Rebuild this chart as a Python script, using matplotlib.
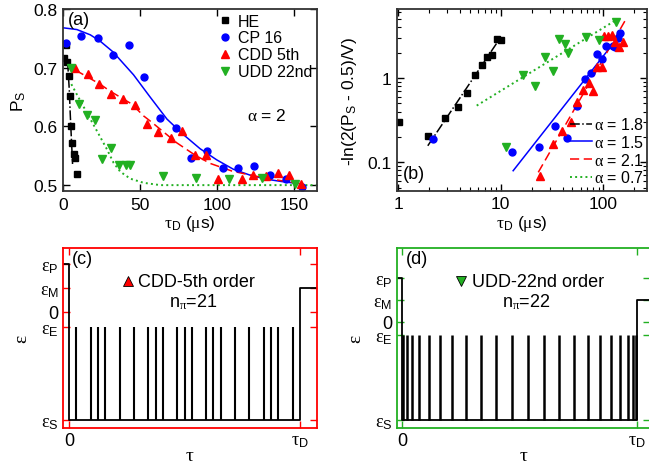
import matplotlib
matplotlib.use('Agg')
import matplotlib.pyplot as plt
from matplotlib.ticker import NullFormatter

plt.rcParams['font.family'] = ['Liberation Sans', 'DejaVu Sans']
plt.rcParams['mathtext.fontset'] = 'custom'
plt.rcParams['mathtext.rm'] = 'Liberation Serif'
plt.rcParams['mathtext.sf'] = 'Liberation Sans'
plt.rcParams['mathtext.it'] = 'Liberation Serif:italic'
plt.rcParams['mathtext.bf'] = 'Liberation Serif:bold'

BLUE = '#0000ff'
RED = '#ff0000'
GREEN = '#22b022'

# ---- panel (a): P_S vs tau_D (us)
he_t = [0.8, 1.8, 2.5, 3.6, 4.3, 5.0, 6.0, 7.0, 8.0, 9.2]
he_p = [0.717, 0.739, 0.709, 0.686, 0.652, 0.601, 0.572, 0.553, 0.546, 0.519]
cp_t = [1.9, 11.9, 22.4, 32.4, 42.5, 52.7, 63, 73.2, 83.3, 93.5, 103.6, 113.7, 123.9, 134, 144.3, 154.8]
cp_p = [0.7415, 0.7545, 0.750, 0.7216, 0.739, 0.6835, 0.6136, 0.597, 0.5455, 0.5585,
        0.530, 0.530, 0.533, 0.517, 0.511, 0.496]
cdd_t = [8, 16, 23.1, 31.3, 38.9, 46.8, 54.4, 61.9, 69.9, 77.1, 85.7, 92.8, 100.8, 115.9,
         123.5, 131.7, 139.2, 146.8, 154.3]
cdd_p = [0.699, 0.689, 0.672, 0.656, 0.647, 0.636, 0.604, 0.591, 0.580, 0.593, 0.551, 0.551,
         0.510, 0.510, 0.518, 0.515, 0.521, 0.517, 0.502]
udd_t = [5.0, 10.3, 15.8, 20.7, 25.5, 30.8, 36, 41, 43.2, 64.8, 86.3, 107.9, 128.9, 150.4]
udd_p = [0.699, 0.638, 0.620, 0.611, 0.544, 0.563, 0.534, 0.534, 0.534, 0.515, 0.512, 0.510,
         0.512, 0.502]

# fit curves
he_fit_t = [3.0, 4.1, 4.7, 5.4, 6.2]
he_fit_p = [0.710, 0.661, 0.621, 0.581, 0.536]
cp_fit_t = [0, 9, 17.7, 24.2, 32.4, 45.7, 56.5, 67.4, 78.1, 88.9, 99.7, 110.5, 121.3, 132.1, 142.9, 155]
cp_fit_p = [0.768, 0.765, 0.756, 0.745, 0.727, 0.688, 0.650, 0.6125, 0.586, 0.562, 0.543,
            0.527, 0.517, 0.510, 0.5057, 0.502]
cdd_fit_t = [8, 24, 30.6, 44.7, 52.2, 57.6, 73.8, 85.7, 95.4, 109.5, 123.4, 135.4, 149.4, 155]
cdd_fit_p = [0.696, 0.672, 0.660, 0.638, 0.618, 0.607, 0.572, 0.551, 0.537, 0.524, 0.516,
             0.510, 0.5046, 0.502]
udd_fit_t = [5.4, 10.1, 16.6, 23.1, 28.5, 32.8, 37.1, 43.6, 52.2, 63, 165]
udd_fit_p = [0.672, 0.649, 0.618, 0.587, 0.561, 0.538, 0.523, 0.511, 0.504, 0.500, 0.500]

# ---- panel (b): -ln(2(P_S-0.5)/V) vs tau_D, log-log
he_tb = [1.02, 1.94, 2.86, 3.80, 4.65, 5.6, 6.5, 7.39, 8.26, 9.12, 10.05]
he_db = [0.298, 0.203, 0.335, 0.457, 0.658, 1.085, 1.44, 1.76, 1.89, 2.9, 2.85]
cp_tb = [2.16, 12.8, 23.4, 33.8, 44.2, 55, 66.2, 75.2, 86.1, 96.4, 107, 123, 130, 140, 147]
cp_db = [0.189, 0.1315, 0.151, 0.272, 0.196, 0.47, 0.97, 1.14, 1.93, 1.68, 2.38, 2.4, 2.31, 3.0, 3.45]
cdd_tb = [24.1, 32.1, 39.8, 48.1, 55.8, 63.8, 73, 79.9, 86.1, 96.4, 101.6, 112, 120.8, 130, 143, 154.6]
cdd_db = [0.068, 0.166, 0.237, 0.298, 0.52, 0.72, 0.87, 0.70, 1.34, 1.34, 3.18, 3.18, 3.2,
          2.65, 2.31, 2.65]
udd_tb = [11.2, 16.4, 21.6, 27, 32.1, 37.2, 42.3, 45, 67.8, 90.2, 132]
udd_db = [0.151, 1.07, 0.795, 1.76, 1.22, 2.9, 2.5, 1.97, 3.04, 2.8, 4.6]

he_line_t, he_line_d = [1.94, 9.25], [0.157, 2.65]
cp_line_t, cp_line_d = [13.2, 145.6], [0.0794, 3.26]
cdd_line_t, cdd_line_d = [23.2, 163], [0.076, 4.78]
udd_line_t, udd_line_d = [5.82, 135], [0.47, 4.92]
alpha_labels = ['1.8', '1.5', '2.1', '0.7']

# ---- panels (c), (d): pulse sequences (times in units of tau_D)
level_names = ['P', 'M', '0', 'E', 'S']
level_vals = [3.2, 1.6, 0.0, -1.0, -7.2]
cdd_pulses = [0.031, 0.094, 0.125, 0.156, 0.219, 0.281, 0.344, 0.375, 0.406, 0.469, 0.5,
              0.531, 0.594, 0.625, 0.656, 0.719, 0.781, 0.844, 0.875, 0.906, 0.969]
udd_pulses = [0.0047, 0.0185, 0.0414, 0.0728, 0.1121, 0.1587, 0.2117, 0.2700, 0.3326, 0.3983,
              0.4658, 0.5342, 0.6017, 0.6674, 0.7300, 0.7883, 0.8413, 0.8879, 0.9272, 0.9586,
              0.9815, 0.9953]

W, H = 649, 464
fig = plt.figure(figsize=(W / 100, H / 100), dpi=100)


def box(l, r, t, b):
    return [l / W, 1 - b / H, (r - l) / W, (b - t) / H]


TAU_D = r'$\mathrm{\tau}_\mathsf{D}$'
FS_TICK = 12.5
FS_TXT = 11.5

# ================= (a)
ax = fig.add_axes(box(63, 316.7, 10, 192))
ax.plot(he_fit_t, he_fit_p, color='k', ls='-.', lw=1.1)
ax.plot(cp_fit_t, cp_fit_p, color=BLUE, ls='-', lw=1.1)
ax.plot(cdd_fit_t, cdd_fit_p, color=RED, ls=(0, (6, 3)), lw=1.1)
ax.plot(udd_fit_t, udd_fit_p, color=GREEN, ls=':', lw=1.4)
h1, = ax.plot(he_t, he_p, 's', color='k', ms=4.5, ls='none', label='HE')
h2, = ax.plot(cp_t, cp_p, 'o', color=BLUE, ms=5, ls='none', label='CP 16')
h3, = ax.plot(cdd_t, cdd_p, '^', color=RED, ms=5.8, ls='none', label='CDD 5th')
h4, = ax.plot(udd_t, udd_p, 'v', color=GREEN, ms=5.8, ls='none', label='UDD 22nd')
ax.set_xlim(0, 164.5)
ax.set_ylim(0.49, 0.8)
ax.set_xticks([0, 50, 100, 150])
ax.set_yticks([0.5, 0.6, 0.7, 0.8])
ax.set_xlabel(TAU_D + r' ($\mathrm{\mu}$s)', fontsize=FS_TICK, labelpad=1)
ax.set_ylabel(r'P$_\mathsf{S}$', fontsize=FS_TICK, labelpad=4)
ax.legend(handles=[h1, h2, h3, h4], loc='upper left', bbox_to_anchor=(0.612, 0.975),
          frameon=False, fontsize=FS_TXT, handlelength=0.8, handletextpad=0.45,
          labelspacing=0.12, borderpad=0, borderaxespad=0)
ax.text(0.02, 0.94, '(a)', transform=ax.transAxes, fontsize=13, va='center', ha='left')
ax.text(0.804, 0.418, r'$\mathrm{\alpha}$ = 2', transform=ax.transAxes, fontsize=FS_TXT + 1,
        va='center', ha='center')

# ================= (b)
bx = fig.add_axes(box(396.7, 646.7, 10, 191.7))
bx.set_xscale('log')
bx.set_yscale('log')
l1, = bx.plot(he_line_t, he_line_d, color='k', ls='-.', lw=1.1)
l2, = bx.plot(cp_line_t, cp_line_d, color=BLUE, ls='-', lw=1.1)
l3, = bx.plot(cdd_line_t, cdd_line_d, color=RED, ls=(0, (6, 3)), lw=1.1)
l4, = bx.plot(udd_line_t, udd_line_d, color=GREEN, ls=':', lw=1.4)
bx.plot(he_tb, he_db, 's', color='k', ms=4.5, ls='none')
bx.plot(cp_tb, cp_db, 'o', color=BLUE, ms=5, ls='none')
bx.plot(cdd_tb, cdd_db, '^', color=RED, ms=5.8, ls='none')
bx.plot(udd_tb, udd_db, 'v', color=GREEN, ms=5.8, ls='none')
bx.set_xlim(0.965, 265)
bx.set_ylim(0.046, 6.58)
bx.set_xticks([1, 10, 100])
bx.set_xticklabels(['1', '10', '100'])
bx.set_yticks([0.1, 1])
bx.set_yticklabels(['0.1', '1'])
bx.xaxis.set_minor_formatter(NullFormatter())
bx.yaxis.set_minor_formatter(NullFormatter())
bx.set_xlabel(TAU_D + r' ($\mathrm{\mu}$s)', fontsize=FS_TICK, labelpad=1)
bx.set_ylabel(r'-ln(2(P$_\mathsf{S}$ - 0.5)/V)', fontsize=FS_TICK, labelpad=6)
bx.legend([l1, l2, l3, l4], [r'$\mathrm{\alpha}$ = ' + a for a in alpha_labels],
          loc='lower right', bbox_to_anchor=(0.99, 0.03), frameon=False, fontsize=FS_TXT,
          handlelength=1.35, handletextpad=0.15, labelspacing=0.1, borderpad=0,
          borderaxespad=0)
bx.text(0.025, 0.092, '(b)', transform=bx.transAxes, fontsize=13, va='center', ha='left')

for a in (ax, bx):
    a.tick_params(which='major', direction='in', top=True, right=True, length=5, width=1,
                  labelsize=FS_TICK, pad=4)
    a.tick_params(which='minor', direction='in', top=True, right=True, length=3, width=0.8)
    for s in a.spines.values():
        s.set_linewidth(1.3)
        s.set_color('#333333')


# ================= (c), (d)
def pulse_panel(pos, pulses, color, ylim, xlim, marker, title, n, lw_pulse, lbl):
    p = fig.add_axes(pos)
    lv = dict(zip(level_names, level_vals))
    # boundary steps: eps_P before 0, eps_S during the sequence, eps_M after tau_D
    p.plot([xlim[0], 0, 0, 1, 1, xlim[1]],
           [lv['P'], lv['P'], lv['S'], lv['S'], lv['M'], lv['M']], color='k', lw=1.3)
    p.vlines(pulses, lv['S'], lv['E'], color='k', lw=lw_pulse)
    p.set_xlim(*xlim)
    p.set_ylim(*ylim)
    p.set_xticks([0, 1])
    p.set_xticklabels(['0', TAU_D])
    p.set_yticks(level_vals)
    p.set_yticklabels([r'$\mathrm{\varepsilon}_\mathsf{%s}$' % k if k != '0' else '0'
                       for k in level_names])
    p.tick_params(direction='in', top=True, right=True, length=5, width=1, color=color,
                  labelcolor='k', labelsize=13, pad=3)
    for s in p.spines.values():
        s.set_color(color)
        s.set_linewidth(1.3)
    p.set_xlabel(r'$\mathrm{\tau}$', fontsize=14, labelpad=-2)
    p.set_ylabel(r'$\mathrm{\varepsilon}$', fontsize=14, labelpad=6)
    p.plot([0.255], [0.816], marker=marker, color=color, mec='k', mew=0.6, ms=7,
           transform=p.transAxes, clip_on=False)
    p.text(0.296, 0.816, title, transform=p.transAxes, fontsize=13, va='center', ha='left')
    p.text(0.512, 0.706, r'n$_{\mathrm{\pi}}$=%d' % n, transform=p.transAxes, fontsize=13,
           va='center', ha='center')
    p.text(0.035, 0.943, lbl, transform=p.transAxes, fontsize=13, va='center', ha='left')
    return p


pulse_panel(box(63, 316.7, 249, 429.3), cdd_pulses, RED, (-7.77, 4.25), (-0.026, 1.072),
            '^', 'CDD-5th order', len(cdd_pulses), 1.5, '(c)')
pulse_panel(box(396.7, 650.5, 249, 429.3), udd_pulses, GREEN, (-7.81, 5.4), (-0.024, 1.056),
            'v', 'UDD-22nd order', len(udd_pulses), 1.8, '(d)')

fig.savefig('out.png', dpi=100)
